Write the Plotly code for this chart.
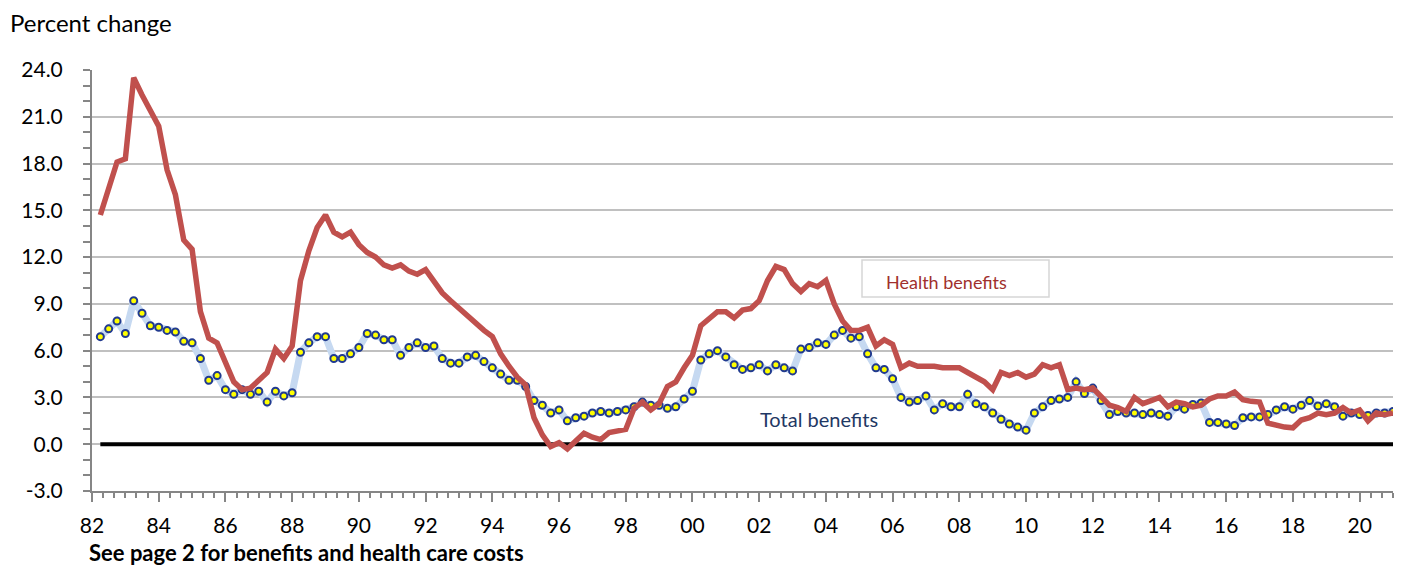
import numpy as np
import plotly.graph_objects as go

# Quarterly categories 1982Q1 .. 2020Q4
years = np.repeat(np.arange(1982, 2021), 4)
quarters = np.tile([1, 2, 3, 4], 39)

health_benefits = [
    14.7, 16.3, 18.1, 18.3, 23.5, 22.4, 21.4, 20.4, 17.6, 16.0, 13.1, 12.5,
    8.5, 6.8, 6.5, 5.2, 4.0, 3.5, 3.6, 4.1, 4.6, 6.1, 5.5, 6.3,
    10.5, 12.4, 13.9, 14.7, 13.6, 13.3, 13.6, 12.8, 12.3, 12.0, 11.5, 11.3,
    11.5, 11.1, 10.9, 11.2, 10.4, 9.7, 9.2, 8.7, 8.2, 7.8, 7.3, 6.9,
    5.8, 5.0, 4.3, 3.8, 1.7, 0.6, -0.15, 0.1, -0.3, 0.2, 0.7, 0.45,
    0.3, 0.75, 0.85, 0.95, 2.3, 2.7, 2.2, 2.6, 3.7, 4.0, 4.9, 5.7,
    7.6, 8.0, 8.5, 8.5, 8.1, 8.6, 8.7, 9.2, 10.5, 11.4, 11.2, 10.3,
    9.8, 10.3, 10.1, 10.5, 9.0, 7.9, 7.3, 7.3, 7.5, 6.3, 6.7, 6.4,
    4.9, 5.2, 5.0, 5.0, 5.0, 4.9, 4.9, 4.9, 4.6, 4.3, 4.0, 3.5,
    4.6, 4.4, 4.6, 4.3, 4.5, 5.1, 4.9, 5.1, 3.5, 3.6, 3.5, 3.6,
    3.0, 2.5, 2.35, 2.1, 3.0, 2.6, 2.8, 3.0, 2.4, 2.7, 2.6, 2.4,
    2.5, 2.9, 3.1, 3.1, 3.35, 2.85, 2.75, 2.7, 1.35, 1.2, 1.1, 1.05,
    1.55, 1.7, 2.0, 1.9, 2.0, 2.35, 2.0, 2.2, 1.5, 2.0, 1.9, 2.0,
]

total_benefits = [
    6.9, 7.4, 7.9, 7.1, 9.2, 8.4, 7.6, 7.5, 7.3, 7.2, 6.6, 6.5,
    5.5, 4.1, 4.4, 3.5, 3.2, 3.5, 3.2, 3.4, 2.7, 3.4, 3.1, 3.3,
    5.9, 6.5, 6.9, 6.9, 5.5, 5.5, 5.8, 6.2, 7.1, 7.0, 6.7, 6.7,
    5.7, 6.2, 6.5, 6.2, 6.3, 5.5, 5.2, 5.2, 5.6, 5.7, 5.3, 4.9,
    4.5, 4.1, 4.1, 3.7, 2.8, 2.5, 2.0, 2.2, 1.5, 1.7, 1.8, 2.0,
    2.1, 2.0, 2.1, 2.2, 2.4, 2.7, 2.5, 2.5, 2.3, 2.4, 2.9, 3.4,
    5.4, 5.8, 6.0, 5.6, 5.1, 4.8, 4.9, 5.1, 4.7, 5.1, 4.9, 4.7,
    6.1, 6.2, 6.5, 6.4, 7.0, 7.3, 6.8, 6.9, 5.8, 4.9, 4.8, 4.2,
    3.0, 2.7, 2.8, 3.1, 2.2, 2.6, 2.4, 2.4, 3.2, 2.6, 2.4, 2.0,
    1.6, 1.3, 1.1, 0.9, 2.0, 2.4, 2.8, 2.9, 3.0, 4.0, 3.25, 3.6,
    2.8, 1.9, 2.1, 2.0, 2.0, 1.9, 2.0, 1.9, 1.8, 2.4, 2.25, 2.55,
    2.65, 1.4, 1.4, 1.3, 1.2, 1.7, 1.75, 1.75, 1.9, 2.2, 2.4, 2.25,
    2.5, 2.8, 2.45, 2.6, 2.4, 1.8, 2.0, 1.9, 1.85, 2.0, 2.0, 2.1,
]

tick_years = list(range(1982, 2021, 2))
tick_labels = [f"{y % 100:02d}" for y in tick_years]
y_ticks = list(range(-3, 25, 3))

x = years + quarters / 4.0

FONT = "Lato, 'Open Sans', sans-serif"
AXIS_GRAY = "#868686"
GRID_GRAY = "#C0C0C0"

fig = go.Figure()

fig.add_trace(go.Scatter(
    x=[x[0], x[-1]], y=[0, 0], mode="lines",
    line=dict(color="#000000", width=4), hoverinfo="skip", showlegend=False,
))
fig.add_trace(go.Scatter(
    x=x, y=total_benefits, mode="lines+markers", name="Total benefits",
    line=dict(color="#C6D9F1", width=7),
    marker=dict(size=7, color="#FFFF00", line=dict(color="#213A8F", width=2)),
    showlegend=False,
))
fig.add_trace(go.Scatter(
    x=x, y=health_benefits, mode="lines", name="Health benefits",
    line=dict(color="#C0504D", width=5.5),
    showlegend=False,
))

# The page body adds an 8px offset; the figure is sized to fit the window.
OFF = 8
W, H = 1405 - OFF, 566 - OFF
PL, PR, PT, PB = 92, 1393, 70, 491   # plot area in window pixels
L, R, T, B = PL - OFF, 1405 - PR, PT - OFF, 566 - PB
pw, ph = W - L - R, H - T - B


def px(xp):
    return (xp - PL) / pw


def py(yp):
    return (PB - yp) / ph


fig.update_layout(
    width=W, height=H,
    margin=dict(l=L, r=R, t=T, b=B, pad=0),
    paper_bgcolor="white", plot_bgcolor="white",
    font=dict(family=FONT, color="#000000"),
    xaxis=dict(
        range=[1982, 2021], tickmode="array", tickvals=tick_years, ticktext=tick_labels,
        showgrid=False, zeroline=False,
        showline=True, linecolor=AXIS_GRAY, linewidth=2,
        ticks="outside", ticklen=9, tickwidth=2, tickcolor=AXIS_GRAY,
        tickfont=dict(size=21, family=FONT, color="#000000"),
        ticklabelstandoff=6,
        minor=dict(ticks="outside", tick0=1982, dtick=1/3, ticklen=5,
                   tickwidth=1.5, tickcolor=AXIS_GRAY, showgrid=False),
    ),
    yaxis=dict(
        range=[-3, 24], tickmode="array", tickvals=y_ticks,
        ticktext=[f"{v:.1f}" for v in y_ticks],
        showgrid=True, gridcolor=GRID_GRAY, gridwidth=2, zeroline=False,
        showline=True, linecolor=AXIS_GRAY, linewidth=2,
        ticks="outside", ticklen=7, tickwidth=2, tickcolor=AXIS_GRAY,
        tickfont=dict(size=21, family=FONT, color="#000000"),
        ticklabelstandoff=16,
        minor=dict(ticks="outside", dtick=1, ticklen=7, tickwidth=1.5,
                   tickcolor=AXIS_GRAY, showgrid=False),
    ),
    shapes=[
        dict(type="rect", xref="paper", yref="paper",
             x0=px(862), x1=px(1049), y0=py(297), y1=py(260),
             line=dict(color="#D6D6D6", width=1.5), fillcolor="rgba(255,255,255,0)"),
    ],
    annotations=[
        dict(text="Percent change", xref="paper", yref="paper",
             x=px(8), y=py(22), xanchor="left", yanchor="middle",
             showarrow=False, font=dict(size=24, family=FONT, color="#000000")),
        dict(text="Health benefits", xref="paper", yref="paper",
             x=px(946), y=py(282), xanchor="center", yanchor="middle",
             showarrow=False, font=dict(size=18, family=FONT, color="#A0302D")),
        dict(text="Total benefits", xref="paper", yref="paper",
             x=px(819), y=py(419), xanchor="center", yanchor="middle",
             showarrow=False, font=dict(size=20, family=FONT, color="#1F3864")),
        dict(text="<b>See page 2 for benefits and health care costs</b>",
             xref="paper", yref="paper",
             x=px(87), y=py(552), xanchor="left", yanchor="middle",
             showarrow=False, font=dict(size=22, family=FONT, color="#000000")),
    ],
)

fig.write_html("out.html")
